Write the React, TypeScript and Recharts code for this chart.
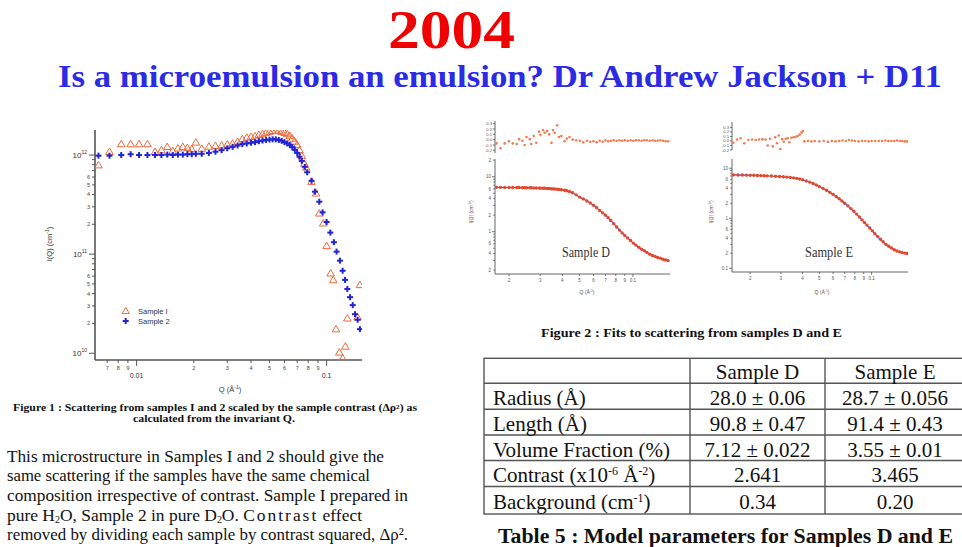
import React from "react";
import { ComposedChart, Scatter, Line, XAxis, YAxis, Legend } from "recharts";

const SANS = "Liberation Sans, Arial, sans-serif";
const SERIF = "Liberation Serif, Times New Roman, serif";
const ORANGE = "#f0693b";
const BLUE = "#2424d6";
const DOT_RED = "#e4472c";
const RES_ORANGE = "#f47c50";
const FIT_BLUE = "#4a4ae8";
const AXIS = "#555";

// Figure 1: I(Q) scaled by contrast, units of 1e12
const sample1Q = [0.0063, 0.0072, 0.0083, 0.0093, 0.0103, 0.0114, 0.0125, 0.0135, 0.0145, 0.0155,
  0.0165, 0.0175, 0.0185, 0.0195, 0.0205, 0.022, 0.024, 0.026, 0.028, 0.030,
  0.032, 0.034, 0.036, 0.038, 0.040, 0.042, 0.044, 0.046, 0.048, 0.050,
  0.052, 0.054, 0.056, 0.058, 0.060, 0.062, 0.064, 0.066, 0.068, 0.070,
  0.072, 0.074, 0.0763, 0.0780, 0.0833, 0.0879, 0.0915, 0.0960, 0.1000, 0.1050,
  0.1084, 0.1120, 0.1166, 0.1214, 0.1254, 0.1285, 0.1456, 0.1497];
const sample1I = [0.79, 1.08, 1.29, 1.29, 1.29, 1.29, 1.08, 1.12, 1.21, 1.10,
  1.17, 1.21, 1.18, 1.15, 1.34, 1.16, 1.22, 1.24, 1.25, 1.28,
  1.31, 1.36, 1.45, 1.50, 1.53, 1.55, 1.60, 1.63, 1.68, 1.72,
  1.75, 1.77, 1.76, 1.72, 1.68, 1.63, 1.56, 1.47, 1.37, 1.27,
  1.12, 0.98, 0.82, 0.75, 0.538, 0.411, 0.258, 0.205, 0.121, 0.0641,
  0.0548, 0.0175, 0.0102, 0.0089, 0.0117, 0.0225, 0.0231, 0.0489];
const sample2Q = [0.0063, 0.0072, 0.0083, 0.0093, 0.0103, 0.0114, 0.0125, 0.0135, 0.0145, 0.0155,
  0.0165, 0.0175, 0.0185, 0.0195, 0.0205, 0.022, 0.024, 0.026, 0.028, 0.030,
  0.032, 0.034, 0.036, 0.038, 0.040, 0.042, 0.044, 0.046, 0.048, 0.050,
  0.052, 0.054, 0.056, 0.058, 0.060, 0.062, 0.064, 0.066, 0.068, 0.070,
  0.072, 0.074, 0.0768, 0.0790, 0.0833, 0.0868, 0.0915, 0.0952, 0.1000, 0.1046,
  0.1092, 0.1128, 0.1175, 0.1214, 0.1250, 0.1285, 0.1328, 0.1372, 0.1411, 0.1456,
  0.1497];
const sample2I = [0.985, 0.985, 1.00, 1.02, 1.00, 1.00, 1.00, 1.00, 1.01, 1.00,
  1.01, 1.01, 1.02, 1.02, 1.03, 1.03, 1.05, 1.08, 1.12, 1.17,
  1.21, 1.25, 1.29, 1.31, 1.33, 1.35, 1.38, 1.40, 1.42, 1.43,
  1.44, 1.44, 1.42, 1.39, 1.35, 1.31, 1.26, 1.20, 1.13, 1.05,
  0.96, 0.87, 0.76, 0.67, 0.55, 0.427, 0.338, 0.264, 0.211, 0.165,
  0.132, 0.106, 0.086, 0.068, 0.055, 0.0445, 0.0368, 0.0306, 0.0248, 0.0218,
  0.0175];
const fig1XTicks = [0.007, 0.008, 0.009, 0.01, 0.02, 0.03, 0.04, 0.05, 0.06, 0.07, 0.08, 0.09, 0.1];
const fig1YTicks = [1e10, 2e10, 3e10, 4e10, 5e10, 6e10, 7e10, 8e10, 9e10,
  1e11, 2e11, 3e11, 4e11, 5e11, 6e11, 7e11, 8e11, 9e11, 1e12];

// Figure 2, sample D
const dQ = [0.0170, 0.0179, 0.0189, 0.0200, 0.0210, 0.0221, 0.0228, 0.0238, 0.0245, 0.0251,
  0.0262, 0.0267, 0.0276, 0.0285, 0.0296, 0.0301, 0.0311, 0.0318, 0.0328, 0.0337,
  0.0347, 0.0354, 0.0362, 0.0374, 0.0383, 0.0395, 0.0412, 0.0424, 0.0439, 0.0457,
  0.0479, 0.0502, 0.0525, 0.0550, 0.0575, 0.0600, 0.0625, 0.0650, 0.0675, 0.0700,
  0.0725, 0.0750, 0.0780, 0.0810, 0.0840, 0.0870, 0.0900, 0.0935, 0.0970, 0.1005,
  0.1040, 0.1080, 0.1120, 0.1160, 0.1200, 0.1245, 0.1290, 0.1335, 0.1380, 0.1430,
  0.1480, 0.1530, 0.1580];
const dI = [6.40, 6.40, 6.39, 6.38, 6.37, 6.36, 6.35, 6.33, 6.32, 6.31,
  6.29, 6.28, 6.26, 6.24, 6.21, 6.20, 6.17, 6.15, 6.12, 6.09,
  6.05, 6.02, 5.99, 5.93, 5.88, 5.80, 5.66, 5.55, 5.38, 5.10,
  4.68, 4.25, 3.95, 3.62, 3.32, 3.03, 2.72, 2.44, 2.20, 2.00,
  1.80, 1.60, 1.40, 1.22, 1.07, 0.95, 0.85, 0.77, 0.69, 0.62,
  0.57, 0.52, 0.48, 0.45, 0.42, 0.39, 0.37, 0.355, 0.34, 0.33,
  0.315, 0.305, 0.298];
const dRes = [-0.07, -0.16, -0.07, -0.03, -0.07, -0.08, 0.01, -0.02, -0.10, 0.05,
  0.01, -0.08, 0.07, -0.06, 0.15, 0.09, 0.18, 0.13, 0.16, 0.10,
  -0.06, 0.18, 0.13, 0.27, 0.05, 0.07, -0.03, 0.02, 0.05, 0.00,
  -0.01, -0.02, -0.05, -0.02, -0.04, -0.03, -0.05, -0.02, -0.04, -0.01,
  -0.03, -0.02, -0.01, -0.02, -0.01, -0.02, -0.01, -0.02, -0.01, -0.02,
  -0.01, -0.01, -0.02, -0.01, -0.01, -0.02, -0.01, -0.02, -0.02, -0.01,
  -0.02, -0.03, -0.03];
const dFitQ = [0.0166, 0.025, 0.030, 0.035, 0.040, 0.045, 0.050, 0.055, 0.060, 0.065, 0.070, 0.075,
  0.080, 0.085, 0.090, 0.095, 0.100, 0.110, 0.120, 0.130, 0.140, 0.150, 0.159];
const dFitI = [6.41, 6.30, 6.20, 6.04, 5.76, 5.20, 4.28, 3.62, 3.03, 2.44, 2.00, 1.60,
  1.28, 1.03, 0.85, 0.73, 0.63, 0.50, 0.42, 0.37, 0.335, 0.31, 0.297];

// Figure 2, sample E
const eQ = [0.0160, 0.0170, 0.0180, 0.0190, 0.0200, 0.0210, 0.0220, 0.0230, 0.0240, 0.0250,
  0.0265, 0.0280, 0.0295, 0.0310, 0.0325, 0.0340, 0.0355, 0.0370, 0.0385, 0.0400,
  0.0420, 0.0440, 0.0460, 0.0480, 0.0500, 0.0525, 0.0550, 0.0575, 0.0600, 0.0625,
  0.0650, 0.0675, 0.0700, 0.0730, 0.0760, 0.0790, 0.0820, 0.0850, 0.0880, 0.0910,
  0.0940, 0.0975, 0.1010, 0.1045, 0.1085, 0.1125, 0.1165, 0.1210, 0.1255, 0.1300,
  0.1350, 0.1400, 0.1450, 0.1500, 0.1550, 0.1600];
const eI = [7.36, 7.33, 7.32, 7.28, 7.26, 7.22, 7.17, 7.12, 7.10, 7.04,
  6.98, 6.90, 6.83, 6.74, 6.65, 6.55, 6.42, 6.28, 6.10, 5.88,
  5.58, 5.28, 4.95, 4.62, 4.30, 3.95, 3.62, 3.30, 3.00, 2.72,
  2.46, 2.22, 2.00, 1.77, 1.56, 1.38, 1.21, 1.06, 0.93, 0.82,
  0.73, 0.64, 0.56, 0.49, 0.43, 0.38, 0.34, 0.30, 0.275, 0.255,
  0.235, 0.222, 0.213, 0.206, 0.201, 0.198];
const eFitQ = [0.0157, 0.0200, 0.0250, 0.0300, 0.0350, 0.0400, 0.0450, 0.0500, 0.0550, 0.0600,
  0.0650, 0.0700, 0.0750, 0.0800, 0.0850, 0.0900, 0.0950, 0.1000, 0.1050, 0.1100,
  0.1150, 0.1200, 0.1300, 0.1400, 0.1500, 0.1600];
const eFitI = [7.37, 7.26, 7.04, 6.80, 6.46, 5.88, 5.11, 4.30, 3.62, 3.00,
  2.46, 2.00, 1.62, 1.30, 1.06, 0.86, 0.70, 0.58, 0.48, 0.40,
  0.35, 0.305, 0.255, 0.222, 0.206, 0.198];
const eResQ = [0.0160, 0.0168, 0.0176, 0.0185, 0.0195, 0.0205, 0.0215, 0.0225, 0.0235, 0.0245,
  0.0252, 0.0260, 0.0270, 0.0278, 0.0285, 0.0292, 0.0298, 0.0305, 0.0312, 0.0320,
  0.0328, 0.0336, 0.0345, 0.0355, 0.0365, 0.0375, 0.0385, 0.0395, 0.0402, 0.0410,
  0.0430, 0.0450, 0.0470, 0.0500, 0.0530, 0.0560, 0.0590, 0.0620, 0.0650, 0.0680,
  0.0710, 0.0740, 0.0770, 0.0800, 0.0840, 0.0880, 0.0920, 0.0960, 0.1000, 0.1050,
  0.1100, 0.1150, 0.1200, 0.1250, 0.1300, 0.1350, 0.1400, 0.1450, 0.1500, 0.1550,
  0.1600];
const eRes = [-0.04, 0.03, 0.06, -0.05, 0.02, 0.03, 0.02, 0.03, 0.04, 0.03,
  -0.10, 0.05, -0.12, 0.08, -0.05, 0.12, -0.18, 0.04, -0.02, 0.05,
  0.06, -0.03, 0.07, 0.08, 0.09, 0.11, 0.14, 0.19, 0.22, -0.01,
  0.00, -0.01, 0.00, -0.01, 0.00, -0.02, 0.00, -0.01, 0.00, 0.01,
  0.00, 0.02, 0.01, 0.00, -0.01, 0.00, 0.00, -0.01, 0.00, 0.00,
  0.00, 0.00, 0.01, 0.00, 0.00, 0.00, 0.01, 0.00, 0.00, -0.01,
  -0.01];

const fig2XTicks = [0.02, 0.03, 0.04, 0.05, 0.06, 0.07, 0.08, 0.09, 0.1];
const fig2DYTicks = [0.2, 0.3, 0.4, 0.5, 0.6, 0.7, 0.8, 0.9, 1, 2, 3, 4, 5, 6, 7, 8, 9, 10, 20];
const fig2EYTicks = [0.1, 0.2, 0.3, 0.4, 0.5, 0.6, 0.7, 0.8, 0.9, 1, 2, 3, 4, 5, 6, 7, 8, 9, 10];
const resTicks = [-0.2, -0.1, 0, 0.1, 0.2, 0.3];

// Table 5
const tableColumns = ["Sample D", "Sample E"];
const tableParams = ["Radius (Å)", "Length (Å)", "Volume Fraction (%)", "Contrast", "Background"];
const tableD = ["28.0 ± 0.06", "90.8 ± 0.47", "7.12 ± 0.022", "2.641", "0.34"];
const tableE = ["28.7 ± 0.056", "91.4 ± 0.43", "3.55 ± 0.01", "3.465", "0.20"];

const toRows = (qs: number[], vs: number[], unit = 1) => qs.map((q, k) => ({ q, i: vs[k] * unit }));
const sample1 = toRows(sample1Q, sample1I, 1e12);
const sample2 = toRows(sample2Q, sample2I, 1e12);
const dData = toRows(dQ, dI);
const dFit = toRows(dFitQ, dFitI);
const dResRows = toRows(dQ, dRes);
const eData = toRows(eQ, eI);
const eFit = toRows(eFitQ, eFitI);
const eResRows = toRows(eResQ, eRes);

type TickProps = { x?: number; y?: number; payload?: { value: number } };

const decade = (v: number) => {
  const e = Math.floor(Math.log10(v) + 1e-9);
  return { e, m: Math.round(v / Math.pow(10, e)) };
};

function Fig1YTick({ x = 0, y = 0, payload }: TickProps) {
  const v = payload ? payload.value : 1;
  const { e, m } = decade(v);
  return (
    <g>
      <line x1={x - (m === 1 ? 6 : 3)} x2={x} y1={y} y2={y} stroke={AXIS} />
      {m === 1 && (
        <text x={x - 8} y={y + 3} textAnchor="end" fontFamily={SANS} fontSize={8} fill="#333">
          10<tspan dy={-4} fontSize={5}>{e}</tspan>
        </text>
      )}
      {m > 1 && m <= 6 && (
        <text x={x - 5} y={y + 2} textAnchor="end" fontFamily={SANS} fontSize={5.5} fill="#444">{m}</text>
      )}
    </g>
  );
}

function Fig1XTick({ x = 0, y = 0, payload }: TickProps) {
  const v = payload ? payload.value : 1;
  const { m } = decade(v);
  const major = m === 1;
  return (
    <g>
      <line x1={x} x2={x} y1={y} y2={y + (major ? 6 : 3)} stroke={AXIS} />
      {major ? (
        <text x={x} y={y + 18} textAnchor="middle" fontFamily={SANS} fontSize={7} fill="#333">{String(v)}</text>
      ) : (
        <text x={x} y={y + 10} textAnchor="middle" fontFamily={SANS} fontSize={5.5} fill="#444">{m}</text>
      )}
    </g>
  );
}

function SmallXTick({ x = 0, y = 0, payload }: TickProps) {
  const v = payload ? payload.value : 1;
  const { m } = decade(v);
  const major = m === 1;
  return (
    <g>
      <line x1={x} x2={x} y1={y} y2={y + (major ? 3 : 2)} stroke={AXIS} strokeWidth={0.8} />
      <text x={x} y={y + 8} textAnchor="middle" fontFamily={SANS} fontSize={4.5} fill="#555">{major ? String(v) : m}</text>
    </g>
  );
}

function SmallLogYTick({ x = 0, y = 0, payload }: TickProps) {
  const v = payload ? payload.value : 1;
  const { m } = decade(v);
  const major = m === 1;
  const label = major ? String(v) : m === 2 || m === 4 || m === 6 ? String(m) : "";
  return (
    <g>
      <line x1={x - (major ? 3 : 1.8)} x2={x} y1={y} y2={y} stroke={AXIS} strokeWidth={0.8} />
      {label && (
        <text x={x - 4} y={y + 1.6} textAnchor="end" fontFamily={SANS} fontSize={4.5} fill="#555">{label}</text>
      )}
    </g>
  );
}

function ResYTick({ x = 0, y = 0, payload }: TickProps) {
  const v = payload ? payload.value : 0;
  return (
    <g>
      <line x1={x - 2} x2={x} y1={y} y2={y} stroke={AXIS} strokeWidth={0.8} />
      <text x={x - 3} y={y + 1.5} textAnchor="end" fontFamily={SANS} fontSize={4.2} fill="#555">{v.toFixed(1)}</text>
    </g>
  );
}

const triangleShape = (p: any) => {
  const { cx, cy } = p;
  return <polygon points={`${cx},${cy - 3.8} ${cx - 3.8},${cy + 2.7} ${cx + 3.8},${cy + 2.7}`} fill="none" stroke={ORANGE} strokeWidth={1} />;
};

const plusShape = (p: any) => {
  const { cx, cy } = p;
  return (
    <g fill={BLUE}>
      <rect x={cx - 3} y={cy - 1} width={6} height={2} />
      <rect x={cx - 1} y={cy - 3} width={2} height={6} />
    </g>
  );
};

const dotShape = (color: string, r: number) => (p: any) => <circle cx={p.cx} cy={p.cy} r={r} fill={color} />;

const renderFig1Legend = () => (
  <svg width={70} height={26} style={{ overflow: "visible" }}>
    <polygon points="5.7,3.4 2.1,9.6 9.3,9.6" fill="none" stroke={ORANGE} strokeWidth={1} />
    <text x={18} y={10} fontFamily={SANS} fontSize={7.5} fill="#333">Sample I</text>
    <g fill={BLUE}>
      <rect x={2.7} y={16} width={6} height={2} />
      <rect x={4.7} y={14} width={2} height={6} />
    </g>
    <text x={18} y={20} fontFamily={SANS} fontSize={7.5} fill="#333">Sample 2</text>
  </svg>
);

function Figure1() {
  return (
    <div style={{ position: "absolute", left: 40, top: 120 }}>
      <ComposedChart width={340} height={290} margin={{ top: 10, right: 18, left: 10, bottom: 0 }}>
        <XAxis type="number" dataKey="q" scale="log" domain={[0.00604, 0.1535]} allowDataOverflow
          ticks={fig1XTicks} interval={0} tickSize={0} tickMargin={0} tickLine={false}
          tick={(p: any) => <Fig1XTick {...p} />} height={50}
          axisLine={{ stroke: AXIS, strokeWidth: 1.6 }} />
        <YAxis type="number" dataKey="i" scale="log" domain={[8.55e9, 1.789e12]} allowDataOverflow
          ticks={fig1YTicks} interval={0} tickSize={0} tickMargin={0} tickLine={false}
          tick={(p: any) => <Fig1YTick {...p} />} width={45}
          axisLine={{ stroke: AXIS, strokeWidth: 1.6 }} />
        <Legend layout="vertical" align="center" verticalAlign="middle" content={renderFig1Legend}
          wrapperStyle={{ left: 80, top: 184, width: 70, height: 26 }} />
        <Scatter name="Sample I" data={sample1} shape={triangleShape} isAnimationActive={false} />
        <Scatter name="Sample 2" data={sample2} shape={plusShape} isAnimationActive={false} />
      </ComposedChart>
    </div>
  );
}

type PanelProps = {
  left: number;
  width: number;
  xDomain: [number, number];
  yDomain: [number, number];
  yTicks: number[];
  resDomain: [number, number];
  resTop: number;
  resHeight: number;
  resMarginTop: number;
  mainXAxisHeight: number;
  data: { q: number; i: number }[];
  fit: { q: number; i: number }[];
  res: { q: number; i: number }[];
};

function FitPanel(p: PanelProps) {
  return (
    <>
      <div style={{ position: "absolute", left: p.left, top: p.resTop }}>
        <ComposedChart width={p.width} height={p.resHeight} margin={{ top: p.resMarginTop, right: 10, left: 10, bottom: 2 }}>
          <XAxis type="number" dataKey="q" scale="log" domain={p.xDomain} allowDataOverflow hide />
          <YAxis type="number" dataKey="i" domain={p.resDomain} allowDataOverflow ticks={resTicks} interval={0}
            tickSize={0} tickMargin={0} tickLine={false} tick={(t: any) => <ResYTick {...t} />} width={30}
            axisLine={{ stroke: AXIS, strokeWidth: 0.9 }} />
          <Scatter data={p.res} shape={dotShape(RES_ORANGE, 1.3)} isAnimationActive={false} />
        </ComposedChart>
      </div>
      <div style={{ position: "absolute", left: p.left, top: 150 }}>
        <ComposedChart width={p.width} height={150} margin={{ top: 9, right: 10, left: 10, bottom: 0 }}>
          <XAxis type="number" dataKey="q" scale="log" domain={p.xDomain} allowDataOverflow ticks={fig2XTicks}
            interval={0} tickSize={0} tickMargin={0} tickLine={false} tick={(t: any) => <SmallXTick {...t} />}
            height={p.mainXAxisHeight} axisLine={{ stroke: AXIS, strokeWidth: 0.9 }} />
          <YAxis type="number" dataKey="i" scale="log" domain={p.yDomain} allowDataOverflow ticks={p.yTicks}
            interval={0} tickSize={0} tickMargin={0} tickLine={false} tick={(t: any) => <SmallLogYTick {...t} />}
            width={30} axisLine={{ stroke: AXIS, strokeWidth: 0.9 }} />
          <Scatter data={p.data} shape={dotShape(DOT_RED, 1.7)} isAnimationActive={false} />
          <Line data={p.fit} dataKey="i" type="monotone" stroke={FIT_BLUE} strokeWidth={1.1} dot={false}
            activeDot={false} isAnimationActive={false} />
        </ComposedChart>
      </div>
    </>
  );
}

const paragraph = [
  { y: 461.5, w: 377 },
  { y: 481, w: 363 },
  { y: 500.5, w: 401 },
  { y: 520.5, w: 355 },
  { y: 540, w: 401 },
];

const rowBaselines = [405, 431, 456.5, 482, 508.5];
const hLines = [383.3, 409.3, 435, 460.5, 486.5];

function TextLayer() {
  const pf = { fontFamily: SERIF, fontSize: 17.5, fill: "#111", lengthAdjust: "spacingAndGlyphs" as const };
  return (
    <svg width={962} height={547} style={{ position: "absolute", left: 0, top: 0, pointerEvents: "none" }}>
      <text x={451.5} y={48} textAnchor="middle" fontFamily={SERIF} fontWeight="bold" fontSize={54}
        fill="#f00000" textLength={127} lengthAdjust="spacingAndGlyphs">2004</text>
      <text x={58} y={87} fontFamily={SERIF} fontWeight="bold" fontSize={32} fill="#2b2be6"
        textLength={884} lengthAdjust="spacingAndGlyphs">Is a microemulsion an emulsion? Dr Andrew Jackson + D11</text>

      {/* figure 1 axis titles */}
      <text transform="translate(52,244) rotate(-90)" textAnchor="middle" fontFamily={SANS} fontSize={7.5} fill="#333">
        I(Q) (cm<tspan dy={-3} fontSize={5}>-1</tspan><tspan dy={3}>)</tspan>
      </text>
      <text x={230} y={392} textAnchor="middle" fontFamily={SANS} fontSize={7.5} fill="#333">
        Q (Å<tspan dy={-3} fontSize={5}>-1</tspan><tspan dy={3}>)</tspan>
      </text>

      <text x={13} y={411} fontFamily={SERIF} fontWeight="bold" fontSize={9.5} fill="#111" textLength={404}
        lengthAdjust="spacingAndGlyphs">Figure 1 : Scattering from samples I and 2 scaled by the sample contrast (Δρ²) as</text>
      <text x={214} y={422} textAnchor="middle" fontFamily={SERIF} fontWeight="bold" fontSize={9.5} fill="#111"
        textLength={162} lengthAdjust="spacingAndGlyphs">calculated from the invariant Q.</text>

      <text x={7} y={paragraph[0].y} textLength={paragraph[0].w} {...pf}>This microstructure in Samples I and 2 should give the</text>
      <text x={7} y={paragraph[1].y} textLength={paragraph[1].w} {...pf}>same scattering if the samples have the same chemical</text>
      <text x={7} y={paragraph[2].y} textLength={paragraph[2].w} {...pf}>composition irrespective of contrast. Sample I prepared in</text>
      <text x={7} y={paragraph[3].y} textLength={paragraph[3].w} {...pf}>
        pure H<tspan dy={2.5} fontSize={10}>2</tspan><tspan dy={-2.5}>O, Sample 2 in pure D</tspan><tspan dy={2.5} fontSize={10}>2</tspan><tspan dy={-2.5}>O. </tspan><tspan letterSpacing={2}>Contrast</tspan> effect
      </text>
      <text x={7} y={paragraph[4].y} textLength={paragraph[4].w} {...pf}>removed by dividing each sample by contrast squared, Δρ².</text>

      {/* figure 2 labels */}
      <text transform="translate(473,212) rotate(-90)" textAnchor="middle" fontFamily={SANS} fontSize={5} fill="#555">
        I(Q) (cm<tspan dy={-2} fontSize={3.5}>-1</tspan><tspan dy={2}>)</tspan>
      </text>
      <text transform="translate(713,212) rotate(-90)" textAnchor="middle" fontFamily={SANS} fontSize={5} fill="#555">
        I(Q) (cm<tspan dy={-2} fontSize={3.5}>-1</tspan><tspan dy={2}>)</tspan>
      </text>
      <text x={587} y={294} textAnchor="middle" fontFamily={SANS} fontSize={5} fill="#555">
        Q (Å<tspan dy={-2} fontSize={3.5}>-1</tspan><tspan dy={2}>)</tspan>
      </text>
      <text x={822} y={294} textAnchor="middle" fontFamily={SANS} fontSize={5} fill="#555">
        Q (Å<tspan dy={-2} fontSize={3.5}>-1</tspan><tspan dy={2}>)</tspan>
      </text>
      <text x={562} y={257} fontFamily={SERIF} fontSize={14} fill="#333" textLength={48} lengthAdjust="spacingAndGlyphs">Sample D</text>
      <text x={805} y={257} fontFamily={SERIF} fontSize={14} fill="#333" textLength={48} lengthAdjust="spacingAndGlyphs">Sample E</text>
      <text x={541} y={337} fontFamily={SERIF} fontWeight="bold" fontSize={13} fill="#111" textLength={301}
        lengthAdjust="spacingAndGlyphs">Figure 2 : Fits to scattering from samples D and E</text>

      {/* table 5 */}
      <g stroke="#555" strokeWidth={1.4} fill="none">
        <rect x={484} y={358.3} width={480} height={155.7} />
        {hLines.map((y) => <line key={y} x1={484} x2={964} y1={y} y2={y} />)}
        <line x1={690} x2={690} y1={358.3} y2={514} />
        <line x1={825} x2={825} y1={358.3} y2={514} />
      </g>
      <g fontFamily={SERIF} fontSize={21} fill="#111">
        <text x={757.5} y={379} textAnchor="middle">{tableColumns[0]}</text>
        <text x={895} y={379} textAnchor="middle">{tableColumns[1]}</text>
        {tableParams.map((name, k) => (
          <text key={name} x={493} y={rowBaselines[k]}>
            {k === 3 ? (
              <>{name} (x10<tspan dy={-7} fontSize={12}>-6</tspan><tspan dy={7}> Å</tspan><tspan dy={-7} fontSize={12}>-2</tspan><tspan dy={7}>)</tspan></>
            ) : k === 4 ? (
              <>{name} (cm<tspan dy={-7} fontSize={12}>-1</tspan><tspan dy={7}>)</tspan></>
            ) : name}
          </text>
        ))}
        {tableD.map((v, k) => <text key={"d" + k} x={757.5} y={rowBaselines[k]} textAnchor="middle">{v}</text>)}
        {tableE.map((v, k) => <text key={"e" + k} x={895} y={rowBaselines[k]} textAnchor="middle">{v}</text>)}
      </g>
      <text x={498} y={543} fontFamily={SERIF} fontWeight="bold" fontSize={20} fill="#111" textLength={455}
        lengthAdjust="spacingAndGlyphs">Table 5 : Model parameters for Samples D and E</text>
    </svg>
  );
}

export default function App() {
  return (
    <div style={{ position: "absolute", left: 0, top: 0, width: 962, height: 547, background: "#fff", overflow: "hidden" }}>
      <Figure1 />
      <FitPanel left={455} width={225} xDomain={[0.01667, 0.162]} yDomain={[0.17, 21]} yTicks={fig2DYTicks}
        resDomain={[-0.25, 0.35]} resTop={115} resHeight={40} resMarginTop={6} mainXAxisHeight={26}
        data={dData} fit={dFit} res={dResRows} />
      <FitPanel left={692} width={226} xDomain={[0.0157, 0.162]} yDomain={[0.0843, 15.3]} yTicks={fig2EYTicks}
        resDomain={[-0.2, 0.42]} resTop={115} resHeight={37} resMarginTop={7} mainXAxisHeight={28}
        data={eData} fit={eFit} res={eResRows} />
      <TextLayer />
    </div>
  );
}
